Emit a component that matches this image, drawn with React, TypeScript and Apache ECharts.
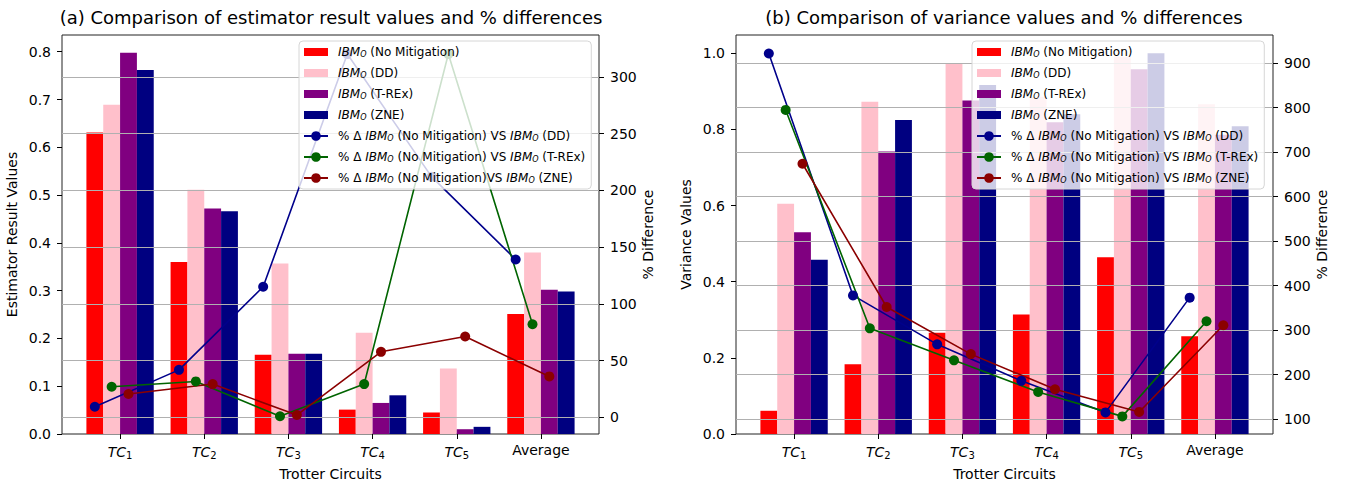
import React, { useEffect, useRef } from 'react';
import * as echarts from 'echarts';

// ---------- data ----------
const categories = ['TC1', 'TC2', 'TC3', 'TC4', 'TC5', 'Average'];
const barNames = ['IBMO (No Mitigation)', 'IBMO (DD)', 'IBMO (T-REx)', 'IBMO (ZNE)'];
const lineNamesA = [
  '% Δ IBMO (No Mitigation) VS IBMO (DD)',
  '% Δ IBMO (No Mitigation) VS IBMO (T-REx)',
  '% Δ IBMO (No Mitigation)VS IBMO (ZNE)',
];
const lineNamesB = [
  '% Δ IBMO (No Mitigation) VS IBMO (DD)',
  '% Δ IBMO (No Mitigation) VS IBMO (T-REx)',
  '% Δ IBMO (No Mitigation) VS IBMO (ZNE)',
];

// (a) estimator result values
const estNoMit = [0.631, 0.36, 0.166, 0.051, 0.045, 0.251];
const estDD = [0.689, 0.511, 0.357, 0.212, 0.137, 0.38];
const estTREx = [0.798, 0.472, 0.168, 0.065, 0.01, 0.302];
const estZNE = [0.762, 0.466, 0.168, 0.081, 0.015, 0.298];
const estPctDD = [9.3, 41.8, 115, 320, 212, 139];
const estPctTREx = [26.9, 31.6, 0.9, 29.3, 320, 82];
const estPctZNE = [20.5, 29.3, 2, 57.7, 71.2, 36];

// (b) variance values
const varNoMit = [0.061, 0.183, 0.266, 0.314, 0.464, 0.257];
const varDD = [0.605, 0.873, 0.974, 0.886, 0.991, 0.866];
const varTREx = [0.53, 0.742, 0.876, 0.819, 0.958, 0.786];
const varZNE = [0.458, 0.825, 0.917, 0.84, 1.0, 0.808];
const varPctDD = [922, 378, 268, 186, 115, 373];
const varPctTREx = [795, 304, 232, 161, 106, 320];
const varPctZNE = [674, 352, 246, 167, 116, 311];

// tick labels
const estTicks = [0, 0.1, 0.2, 0.3, 0.4, 0.5, 0.6, 0.7, 0.8];
const estPctTicks = [0, 50, 100, 150, 200, 250, 300];
const varTicks = [0, 0.2, 0.4, 0.6, 0.8, 1.0];
const varPctTicks = [100, 200, 300, 400, 500, 600, 700, 800, 900];

// ---------- styles ----------
const FONT = 'DejaVu Sans';
const barColors = ['#ff0000', '#ffc0cb', '#800080', '#000080'];
const lineColors = ['#00008b', '#006400', '#8b0000'];
const barOffsets = [-0.3, -0.1, 0.1, 0.3];
const lineOffsets = [-0.3, -0.1, 0.1];
const BAR_W = 0.2;
const X_MIN = -0.69;
const X_MAX = 5.69;

const catTicks = categories.map((_, i) => i);

const xFormatter = (v: number) => {
  const c = categories[Math.round(v)] ?? '';
  if (c.startsWith('TC')) return `{i|TC}{s|${c.slice(2)}}`;
  return c;
};

const legendFormatter = (name: string) => name.replace(/IBMO/g, '{i|IBM}{s|O}');

function makeBarSeries(name: string, values: number[], k: number, xi: number, yi: number) {
  return {
    type: 'custom',
    name,
    xAxisIndex: xi,
    yAxisIndex: yi,
    z: 2,
    itemStyle: { color: barColors[k] },
    encode: { x: 0, y: 1 },
    data: values.map((v, i) => [i, v]),
    renderItem: (params: any, api: any) => {
      const x = api.value(0) as number;
      const v = api.value(1) as number;
      const c = x + barOffsets[k];
      const p0 = api.coord([c - BAR_W / 2, v]);
      const p1 = api.coord([c + BAR_W / 2, 0]);
      return {
        type: 'rect',
        shape: { x: p0[0], y: p0[1], width: p1[0] - p0[0], height: p1[1] - p0[1] },
        style: { fill: barColors[k] },
      };
    },
  };
}

function makeLineSeries(name: string, values: number[], k: number, xi: number, yi: number, grid?: number[]) {
  const s: any = {
    type: 'line',
    name,
    xAxisIndex: xi,
    yAxisIndex: yi,
    z: 4,
    symbol: 'circle',
    symbolSize: 10,
    lineStyle: { color: lineColors[k], width: 1.6 },
    itemStyle: { color: lineColors[k] },
    data: values.map((v, i) => [i + lineOffsets[k], v]),
  };
  if (grid) {
    s.markLine = {
      silent: true,
      z: 3,
      symbol: ['none', 'none'],
      label: { show: false },
      lineStyle: { color: '#b0b0b0', width: 1, type: 'solid' },
      emphasis: { disabled: true },
      data: grid.map((t) => ({ yAxis: t })),
    };
  }
  return s;
}

function xAxisCfg(gridIndex: number) {
  return {
    type: 'value',
    gridIndex,
    min: X_MIN,
    max: X_MAX,
    name: 'Trotter Circuits',
    nameLocation: 'middle',
    nameGap: 33,
    nameTextStyle: { fontFamily: FONT, fontSize: 14, color: '#000' },
    axisLine: { show: false, onZero: false },
    splitLine: { show: false },
    axisTick: { show: true, inside: false, length: 5, lineStyle: { color: '#000' }, customValues: catTicks },
    axisLabel: {
      customValues: catTicks,
      formatter: xFormatter,
      fontFamily: FONT,
      fontSize: 14,
      color: '#000',
      margin: 9,
      rich: {
        i: { fontStyle: 'italic', fontFamily: FONT, fontSize: 14, color: '#000' },
        s: { fontStyle: 'normal', fontFamily: FONT, fontSize: 10, color: '#000', padding: [7, 0, 0, 0] },
      },
    },
  };
}

function yAxisCfg(
  gridIndex: number,
  position: 'left' | 'right',
  min: number,
  max: number,
  ticks: number[],
  digits: number,
  name: string,
) {
  return {
    type: 'value',
    gridIndex,
    position,
    min,
    max,
    name,
    nameLocation: 'middle',
    nameGap: position === 'left' ? 43 : 42,
    nameTextStyle: { fontFamily: FONT, fontSize: 14, color: '#000' },
    axisLine: { show: false, onZero: false },
    splitLine: { show: false },
    axisTick: { show: true, inside: false, length: 5, lineStyle: { color: '#000' }, customValues: ticks },
    axisLabel: {
      customValues: ticks,
      formatter: (v: number) => v.toFixed(digits),
      fontFamily: FONT,
      fontSize: 14,
      color: '#000',
      margin: 11,
    },
  };
}

const BAR_ICON = 'path://M0 0H24V8H0Z';

function legendCfg(left: number, names: string[]) {
  return {
    orient: 'vertical',
    left,
    top: 41,
    z: 10,
    itemWidth: 24,
    itemHeight: 12,
    itemGap: 7,
    padding: [4, 6, 4, 4],
    backgroundColor: 'rgba(255,255,255,0.8)',
    borderColor: '#d6d6d6',
    borderWidth: 1,
    borderRadius: 4,
    formatter: legendFormatter,
    textStyle: {
      fontFamily: FONT,
      fontSize: 12,
      color: '#000',
      lineHeight: 14,
      padding: [0, 0, 0, 5],
      rich: {
        i: { fontStyle: 'italic', fontFamily: FONT, fontSize: 12, color: '#000' },
        s: { fontStyle: 'italic', fontFamily: FONT, fontSize: 8, color: '#000', padding: [5, 0, 0, 0] },
      },
    },
    data: [...barNames.map((n) => ({ name: n, icon: BAR_ICON })), ...names],
  };
}

export default function App() {
  const ref = useRef<HTMLDivElement>(null);

  useEffect(() => {
    if (!ref.current) return;
    const chart = echarts.init(ref.current, undefined, { renderer: 'svg' });

    const option: any = {
      animation: false,
      backgroundColor: '#ffffff',
      textStyle: { fontFamily: FONT },
      grid: [
        { left: 62, top: 35, width: 537, height: 400, show: true, borderColor: '#222', borderWidth: 1, backgroundColor: 'transparent' },
        { left: 736, top: 35, width: 537, height: 400, show: true, borderColor: '#222', borderWidth: 1, backgroundColor: 'transparent' },
      ],
      graphic: [
        {
          type: 'text',
          x: 331,
          y: 17,
          style: {
            text: '(a) Comparison of estimator result values and % differences',
            fontFamily: FONT,
            fontSize: 18,
            fill: '#000',
            align: 'center',
            verticalAlign: 'middle',
          },
        },
        {
          type: 'text',
          x: 1004,
          y: 17,
          style: {
            text: '(b) Comparison of variance values and % differences',
            fontFamily: FONT,
            fontSize: 18,
            fill: '#000',
            align: 'center',
            verticalAlign: 'middle',
          },
        },
      ],
      legend: [legendCfg(299, lineNamesA), legendCfg(972, lineNamesB)],
      xAxis: [xAxisCfg(0), xAxisCfg(1)],
      yAxis: [
        yAxisCfg(0, 'left', 0, 0.835, estTicks, 1, 'Estimator Result Values'),
        yAxisCfg(0, 'right', -14.7, 336.8, estPctTicks, 0, '% Difference'),
        yAxisCfg(1, 'left', 0, 1.048, varTicks, 1, 'Variance Values'),
        yAxisCfg(1, 'right', 66.4, 963.5, varPctTicks, 0, '% Difference'),
      ],
      series: [
        makeBarSeries(barNames[0], estNoMit, 0, 0, 0),
        makeBarSeries(barNames[1], estDD, 1, 0, 0),
        makeBarSeries(barNames[2], estTREx, 2, 0, 0),
        makeBarSeries(barNames[3], estZNE, 3, 0, 0),
        makeLineSeries(lineNamesA[0], estPctDD, 0, 0, 1, estPctTicks),
        makeLineSeries(lineNamesA[1], estPctTREx, 1, 0, 1),
        makeLineSeries(lineNamesA[2], estPctZNE, 2, 0, 1),
        makeBarSeries(barNames[0], varNoMit, 0, 1, 2),
        makeBarSeries(barNames[1], varDD, 1, 1, 2),
        makeBarSeries(barNames[2], varTREx, 2, 1, 2),
        makeBarSeries(barNames[3], varZNE, 3, 1, 2),
        makeLineSeries(lineNamesB[0], varPctDD, 0, 1, 3, varPctTicks),
        makeLineSeries(lineNamesB[1], varPctTREx, 1, 1, 3),
        makeLineSeries(lineNamesB[2], varPctZNE, 2, 1, 3),
      ],
    };

    chart.setOption(option);
    return () => {
      chart.dispose();
    };
  }, []);

  return (
    <div
      ref={ref}
      style={{ position: 'absolute', left: 0, top: 0, width: 1346, height: 486 }}
    />
  );
}
